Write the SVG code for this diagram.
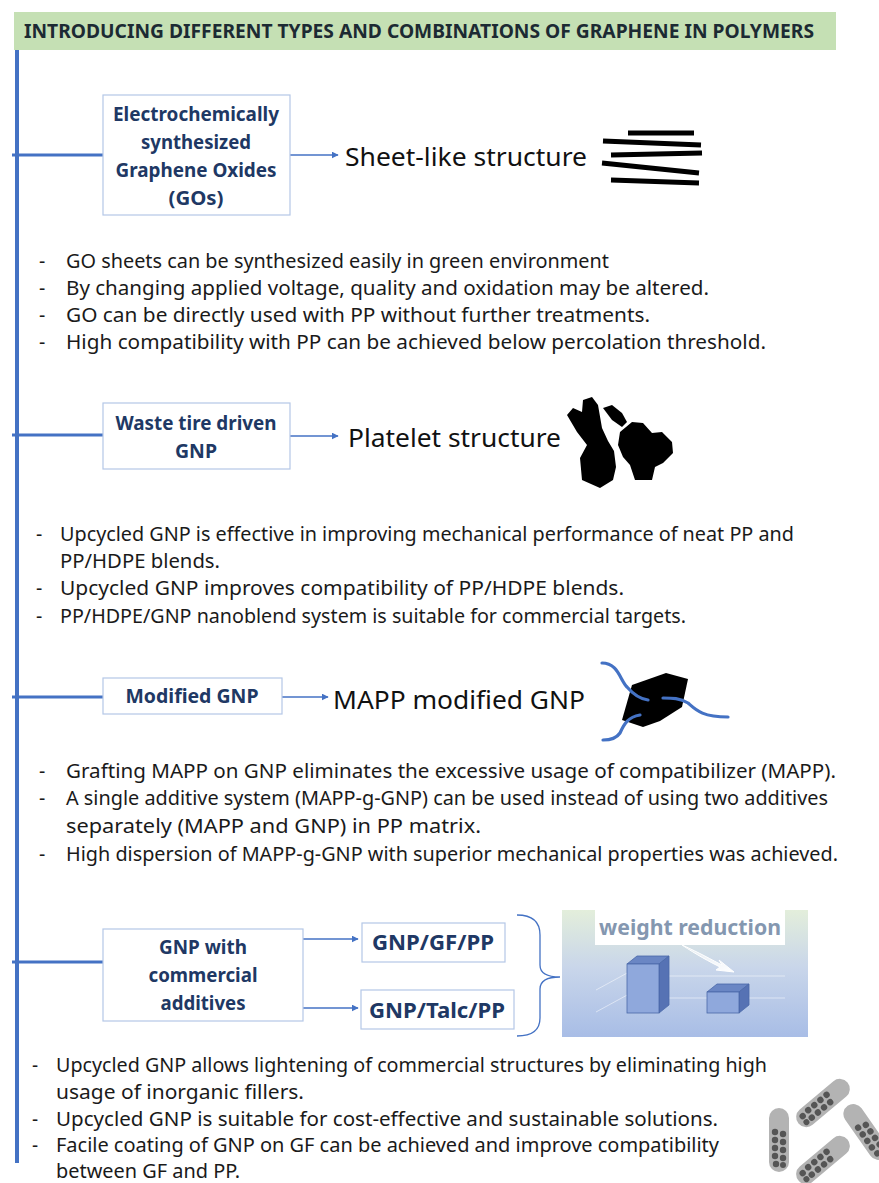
<svg xmlns="http://www.w3.org/2000/svg" width="879" height="1183" viewBox="0 0 879 1183">
  <defs>
    <style>
      .title { font-family: "Noto Sans", "Open Sans", sans-serif; font-weight: bold; font-size: 20px; fill: #1c2a33; }
      .node-box { fill: #ffffff; stroke: #b4c7e7; stroke-width: 1.2; }
      .node-label { font-family: "Noto Sans", "Open Sans", sans-serif; font-weight: bold; font-size: 19px; fill: #203864; text-anchor: middle; }
      .big { font-family: "Noto Sans", "Open Sans", sans-serif; font-size: 26px; fill: #111111; }
      .bullet { font-family: "Noto Sans", "Open Sans", sans-serif; font-size: 19.5px; fill: #1a1a1a; }
      .bullet-tight { font-family: "Noto Sans", "Open Sans", sans-serif; font-size: 19px; fill: #1a1a1a; }
      .trunk { stroke: #4472c4; stroke-width: 4; fill: none; }
      .branch { stroke: #4472c4; stroke-width: 3; fill: none; }
      .arrow { stroke: #4472c4; stroke-width: 1.3; fill: none; marker-end: url(#head); }
      .chain { stroke: #4472c4; stroke-width: 3.2; fill: none; stroke-linecap: round; }
      .sheet { stroke: #000000; stroke-width: 5; stroke-linecap: butt; }
      .cap { fill: #b3b3b3; }
      .dot { fill: #555555; }
    </style>
    <marker id="head" viewBox="0 0 10 10" refX="9" refY="5" markerWidth="7" markerHeight="7" markerUnits="userSpaceOnUse" orient="auto">
      <path d="M0,0 L10,5 L0,10 z" fill="#4472c4"/>
    </marker>
    <linearGradient id="panelGrad" x1="0" y1="0" x2="0" y2="1">
      <stop offset="0" stop-color="#e3eedb"/>
      <stop offset="0.45" stop-color="#c9d6ea"/>
      <stop offset="1" stop-color="#a8bde6"/>
    </linearGradient>
    <linearGradient id="arrowGrad" x1="0" y1="0" x2="1" y2="1">
      <stop offset="0" stop-color="#ffffff" stop-opacity="0.4"/>
      <stop offset="1" stop-color="#ffffff"/>
    </linearGradient>
    <g id="capsule">
      <rect x="-10" y="-32" width="20" height="64" rx="10" class="cap"/>
      <circle cx="-4" cy="-8" r="3.2" class="dot"/>
      <circle cx="4" cy="-6" r="3.2" class="dot"/>
      <circle cx="-4" cy="0" r="3.2" class="dot"/>
      <circle cx="4" cy="2" r="3.2" class="dot"/>
      <circle cx="-4" cy="8" r="3.2" class="dot"/>
      <circle cx="4" cy="10" r="3.2" class="dot"/>
      <circle cx="-4" cy="16" r="3.2" class="dot"/>
      <circle cx="4" cy="18" r="3.2" class="dot"/>
      <circle cx="-3" cy="24" r="3.2" class="dot"/>
      <circle cx="4" cy="25" r="3" class="dot"/>
    </g>
  </defs>

  <rect width="879" height="1183" fill="#ffffff"/>

  <!-- Title banner -->
  <g id="title">
    <rect x="14" y="12" width="822" height="38" fill="#c5e0b4"/>
    <text x="24" y="38" class="title" textLength="790" lengthAdjust="spacingAndGlyphs">INTRODUCING DIFFERENT TYPES AND COMBINATIONS OF GRAPHENE IN POLYMERS</text>
  </g>

  <!-- Trunk, branches and arrows -->
  <g id="connectors">
    <line x1="17" y1="50" x2="17" y2="1163" class="trunk"/>
    <line x1="12" y1="155" x2="103" y2="155" class="branch"/>
    <line x1="12" y1="435" x2="103" y2="435" class="branch"/>
    <line x1="12" y1="697" x2="103" y2="697" class="branch"/>
    <line x1="12" y1="962" x2="103" y2="962" class="branch"/>
    <line x1="290" y1="155" x2="338" y2="155" class="arrow"/>
    <line x1="290" y1="436" x2="338" y2="436" class="arrow"/>
    <line x1="282" y1="697" x2="328" y2="697" class="arrow"/>
    <line x1="303" y1="939" x2="358" y2="939" class="arrow"/>
    <line x1="303" y1="1008" x2="358" y2="1008" class="arrow"/>
    <path d="M517,915 Q540,915 540,935 L540,965 Q540,977 560,977 Q540,977 540,989 L540,1018 Q540,1036 517,1036" fill="none" stroke="#4472c4" stroke-width="1.3"/>
  </g>

  <!-- Electrochemically synthesized GO -->
  <g id="node-go">
    <rect x="103" y="95" width="187" height="120" class="node-box"/>
    <text x="196" y="121" class="node-label" textLength="166" lengthAdjust="spacingAndGlyphs">Electrochemically</text>
    <text x="196" y="149" class="node-label" textLength="110" lengthAdjust="spacingAndGlyphs">synthesized</text>
    <text x="196" y="177" class="node-label" textLength="161" lengthAdjust="spacingAndGlyphs">Graphene Oxides</text>
    <text x="196" y="205" class="node-label" textLength="55" lengthAdjust="spacingAndGlyphs">(GOs)</text>
  </g>
  <g id="sheet-structure">
    <text x="345" y="166" class="big" textLength="242" lengthAdjust="spacingAndGlyphs">Sheet-like structure</text>
    <line x1="628" y1="133" x2="694" y2="133" class="sheet"/>
    <line x1="603" y1="141" x2="701" y2="145" class="sheet"/>
    <line x1="611" y1="155" x2="702" y2="153" class="sheet"/>
    <line x1="602" y1="163" x2="699" y2="173" class="sheet"/>
    <line x1="611" y1="180" x2="699" y2="183" class="sheet"/>
  </g>
  <g id="notes-go">
    <text x="39" y="268" class="bullet">-</text>
    <text x="66" y="268" class="bullet" textLength="543" lengthAdjust="spacingAndGlyphs">GO sheets can be synthesized easily  in green environment</text>
    <text x="39" y="295" class="bullet">-</text>
    <text x="66" y="295" class="bullet" textLength="643" lengthAdjust="spacingAndGlyphs">By changing applied voltage, quality and oxidation may be altered.</text>
    <text x="39" y="322" class="bullet">-</text>
    <text x="66" y="322" class="bullet" textLength="584" lengthAdjust="spacingAndGlyphs">GO can be directly used with PP without further treatments.</text>
    <text x="39" y="349" class="bullet">-</text>
    <text x="66" y="349" class="bullet" textLength="700" lengthAdjust="spacingAndGlyphs">High compatibility with PP can be achieved below percolation threshold.</text>
  </g>

  <!-- Waste tire driven GNP -->
  <g id="node-tire-gnp">
    <rect x="103" y="403" width="187" height="66" class="node-box"/>
    <text x="196" y="430" class="node-label" textLength="161" lengthAdjust="spacingAndGlyphs">Waste tire driven</text>
    <text x="196" y="458" class="node-label" textLength="42" lengthAdjust="spacingAndGlyphs">GNP</text>
  </g>
  <g id="platelet-structure">
    <text x="348" y="447" class="big" textLength="213" lengthAdjust="spacingAndGlyphs">Platelet structure</text>
    <polygon points="567,415 573,408 582,412 583,400 592,397 598,405 602,428 608,441 614,451 616,467 613,480 600,488 582,480 580,458 587,445 577,432" fill="#000"/>
    <polygon points="603,408 612,405 622,413 627,422 622,427 612,420" fill="#000"/>
    <polygon points="620,432 632,422 643,423 652,433 662,432 672,442 673,453 663,463 655,467 652,480 635,480 630,465 623,457 618,445" fill="#000"/>
  </g>
  <g id="notes-tire-gnp">
    <text x="36" y="541" class="bullet">-</text>
    <text x="60" y="541" class="bullet" textLength="734" lengthAdjust="spacingAndGlyphs">Upcycled GNP is effective in improving mechanical performance of neat PP and</text>
    <text x="60" y="568" class="bullet" textLength="160" lengthAdjust="spacingAndGlyphs">PP/HDPE blends.</text>
    <text x="36" y="595" class="bullet">-</text>
    <text x="60" y="595" class="bullet" textLength="564" lengthAdjust="spacingAndGlyphs">Upcycled GNP improves compatibility of PP/HDPE blends.</text>
    <text x="36" y="623" class="bullet">-</text>
    <text x="60" y="623" class="bullet" textLength="626" lengthAdjust="spacingAndGlyphs">PP/HDPE/GNP nanoblend system is suitable for commercial targets.</text>
  </g>

  <!-- Modified GNP -->
  <g id="node-modified-gnp">
    <rect x="103" y="678" width="179" height="36" class="node-box"/>
    <text x="192" y="703" class="node-label" textLength="133" lengthAdjust="spacingAndGlyphs">Modified GNP</text>
  </g>
  <g id="mapp-gnp">
    <text x="333" y="709" class="big" textLength="252" lengthAdjust="spacingAndGlyphs">MAPP modified GNP</text>
    <polygon points="666,673 688,679 682,707 660,721 643,727 622,720 632,685" fill="#000"/>
    <path d="M602,663 C618,663 620,680 627,687 C633,694 640,699 648,700" class="chain"/>
    <path d="M663,698 C672,698 680,698 688,703 C696,710 702,717 728,717" class="chain"/>
    <path d="M640,715 C628,717 624,724 620,733 C616,739 610,740 603,740" class="chain"/>
  </g>
  <g id="notes-modified-gnp">
    <text x="39" y="778" class="bullet">-</text>
    <text x="66" y="778" class="bullet" textLength="770" lengthAdjust="spacingAndGlyphs">Grafting MAPP on GNP eliminates the excessive usage of compatibilizer (MAPP).</text>
    <text x="39" y="805" class="bullet">-</text>
    <text x="66" y="805" class="bullet" textLength="762" lengthAdjust="spacingAndGlyphs">A single additive system (MAPP-g-GNP) can be used instead of using two additives</text>
    <text x="66" y="833" class="bullet" textLength="415" lengthAdjust="spacingAndGlyphs">separately (MAPP and GNP) in PP matrix.</text>
    <text x="39" y="861" class="bullet">-</text>
    <text x="66" y="861" class="bullet" textLength="772" lengthAdjust="spacingAndGlyphs">High dispersion of MAPP-g-GNP with superior mechanical properties was achieved.</text>
  </g>

  <!-- GNP with commercial additives -->
  <g id="node-commercial">
    <rect x="103" y="929" width="200" height="92" class="node-box"/>
    <text x="203" y="954" class="node-label" textLength="88" lengthAdjust="spacingAndGlyphs">GNP with</text>
    <text x="203" y="982" class="node-label" textLength="109" lengthAdjust="spacingAndGlyphs">commercial</text>
    <text x="203" y="1010" class="node-label" textLength="85" lengthAdjust="spacingAndGlyphs">additives</text>
  </g>
  <g id="node-gnp-gf-pp">
    <rect x="362" y="923" width="143" height="39" class="node-box"/>
    <text x="433" y="950" class="node-label" style="font-size:21px" textLength="122" lengthAdjust="spacingAndGlyphs">GNP/GF/PP</text>
  </g>
  <g id="node-gnp-talc-pp">
    <rect x="361" y="990" width="153" height="39" class="node-box"/>
    <text x="437" y="1018" class="node-label" style="font-size:21px" textLength="136" lengthAdjust="spacingAndGlyphs">GNP/Talc/PP</text>
  </g>
  <g id="weight-reduction">
    <rect x="562" y="910" width="246" height="127" fill="url(#panelGrad)"/>
    <line x1="596" y1="990" x2="640" y2="966" stroke="#ffffff" stroke-opacity="0.5" stroke-width="1"/>
    <line x1="596" y1="1012" x2="640" y2="988" stroke="#ffffff" stroke-opacity="0.5" stroke-width="1"/>
    <line x1="640" y1="976" x2="785" y2="976" stroke="#ffffff" stroke-opacity="0.5" stroke-width="1"/>
    <line x1="640" y1="998" x2="785" y2="998" stroke="#ffffff" stroke-opacity="0.5" stroke-width="1"/>
    <rect x="595" y="910" width="190" height="35" fill="#ffffff"/>
    <text x="690" y="935" font-family="Noto Sans, Open Sans, sans-serif" font-weight="bold" font-size="22" fill="#8497b0" text-anchor="middle" textLength="182" lengthAdjust="spacingAndGlyphs">weight reduction</text>
    <!-- tall bar -->
    <polygon points="627,964 637,956 669,956 659,964" fill="#6a86c4" stroke="#4a68a8" stroke-width="0.8"/>
    <polygon points="659,964 669,956 669,1005 659,1013" fill="#5672b4" stroke="#4a68a8" stroke-width="0.8"/>
    <rect x="627" y="964" width="32" height="49" fill="#8fa8dc" stroke="#4a68a8" stroke-width="0.8"/>
    <!-- short bar -->
    <polygon points="707,992 717,984 749,984 739,992" fill="#6a86c4" stroke="#4a68a8" stroke-width="0.8"/>
    <polygon points="739,992 749,984 749,1005 739,1013" fill="#5672b4" stroke="#4a68a8" stroke-width="0.8"/>
    <rect x="707" y="992" width="32" height="21" fill="#8fa8dc" stroke="#4a68a8" stroke-width="0.8"/>
    <!-- reduction arrow -->
    <path d="M682,945 C700,953 712,960 722,965 L719,960 L734,972 L716,970 L720,967 C710,962 697,955 682,945 z" fill="url(#arrowGrad)" stroke="#ffffff" stroke-width="1"/>
  </g>
  <g id="notes-commercial">
    <text x="32" y="1072" class="bullet-tight">-</text>
    <text x="56" y="1072" class="bullet-tight" textLength="711" lengthAdjust="spacingAndGlyphs">Upcycled GNP allows lightening of commercial structures by eliminating high</text>
    <text x="56" y="1099" class="bullet-tight" textLength="248" lengthAdjust="spacingAndGlyphs">usage of inorganic fillers.</text>
    <text x="32" y="1126" class="bullet-tight">-</text>
    <text x="56" y="1126" class="bullet-tight" textLength="662" lengthAdjust="spacingAndGlyphs">Upcycled GNP is suitable for cost-effective and sustainable solutions.</text>
    <text x="32" y="1152" class="bullet-tight">-</text>
    <text x="56" y="1152" class="bullet-tight" textLength="663" lengthAdjust="spacingAndGlyphs">Facile coating of GNP on GF can be achieved and improve  compatibility</text>
    <text x="56" y="1178" class="bullet-tight" textLength="184" lengthAdjust="spacingAndGlyphs">between GF and PP.</text>
  </g>

  <!-- Filler capsules -->
  <g id="capsules">
    <use href="#capsule" transform="translate(779,1140) rotate(0)"/>
    <use href="#capsule" transform="translate(823,1103) rotate(50)"/>
    <use href="#capsule" transform="translate(866,1132) rotate(-35)"/>
    <use href="#capsule" transform="translate(823,1160) rotate(50)"/>
  </g>
</svg>
